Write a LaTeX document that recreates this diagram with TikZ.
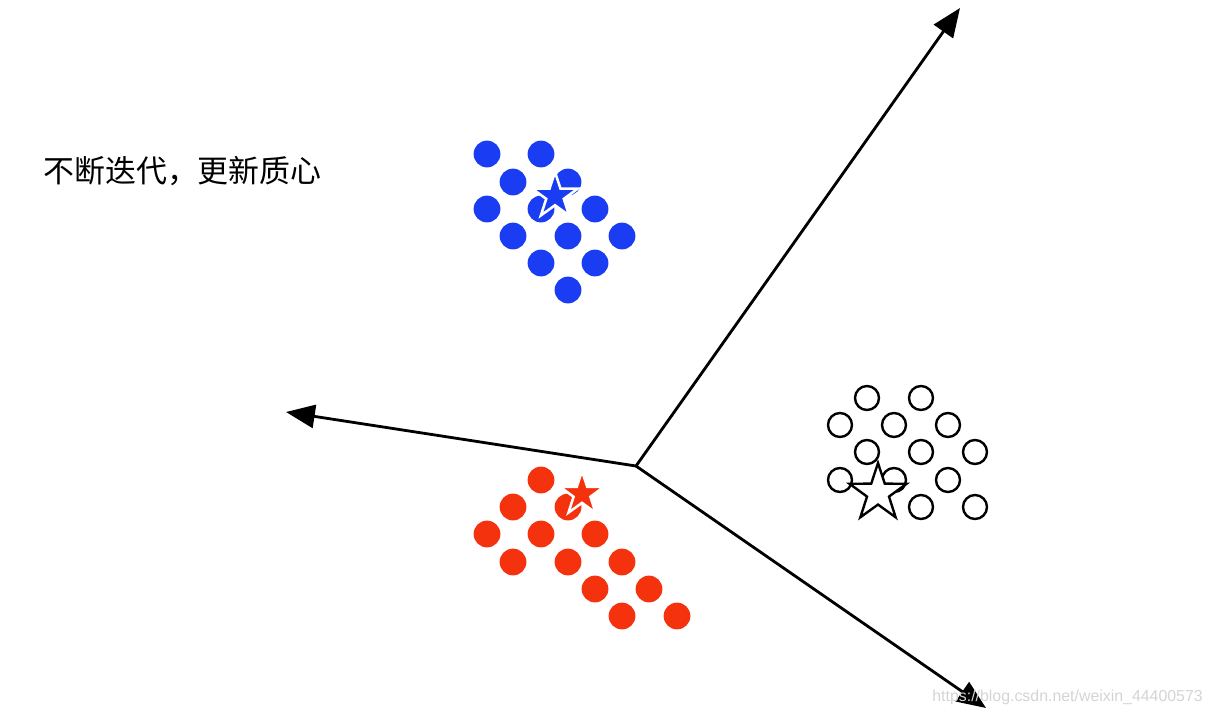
\documentclass[tikz,border=0pt]{standalone}
\usepackage{fontspec}
\usetikzlibrary{arrows.meta,shapes.geometric}
\newfontfamily\cjk{Noto Sans CJK SC}
\newfontfamily\wmfont{Liberation Sans}
\definecolor{clusterBlue}{HTML}{1A3CF2}
\definecolor{clusterRed}{HTML}{F5320E}
\definecolor{markGray}{HTML}{D4D4D4}

\begin{document}
\begin{tikzpicture}[x=0.025cm, y=-0.025cm,
    axis/.style={-{Triangle[length=7.2mm, width=5.8mm]}, line width=2pt},
    bluedot/.style={circle, fill=clusterBlue, inner sep=0pt, minimum size=0.67cm},
    reddot/.style={circle, fill=clusterRed, inner sep=0pt, minimum size=0.67cm},
    opendot/.style={circle, draw, line width=1.7pt, inner sep=0pt, minimum size=0.6cm},
    centroid/.style={star, star points=5, star point ratio=2.6, inner sep=0pt}]
  \useasboundingbox (0,0) rectangle (1212,713);

  % axes
  \coordinate (o) at (636,466);
  \coordinate (tipUp) at (960,8);
  \coordinate (tipLeft) at (286,412);
  \coordinate (tipDown) at (986,708);
  \foreach \t in {tipUp,tipLeft,tipDown}
    \draw[axis] (o) -- (\t);

  % blue cluster
  \foreach \x/\y [count=\i] in {487/154,541/154,513/182,568/182,487/209,541/209,595/209,
      513/236,568/236,622/236,541/263,595/263,568/290}
    \node[bluedot] (blue\i) at (\x,\y) {};
  \node[centroid, fill=clusterBlue, draw=white, line width=1.8pt, minimum size=1.2cm] (starBlue) at (555,196) {};

  % red cluster
  \foreach \x/\y [count=\i] in {541/480,513/507,568/507,487/534,541/534,595/534,
      513/562,568/562,622/562,595/589,649/589,622/616,677/616}
    \node[reddot] (red\i) at (\x,\y) {};
  \node[centroid, fill=clusterRed, draw=white, line width=1.8pt, minimum size=1.15cm] (starRed) at (582,494) {};

  % open cluster
  \foreach \x/\y [count=\i] in {867/398,921/398,840/425,894/425,948/425,
      867/452,921/452,975/452,840/480,894/480,948/480,921/507,975/507}
    \node[opendot] (open\i) at (\x,\y) {};
  \node[centroid, fill=white, draw, line width=1.7pt, minimum size=1.5cm] (starOpen) at (878,493) {};

  \node[anchor=west, inner sep=0pt, font=\cjk\fontsize{22}{26}\selectfont] (title) at (43,171) {不断迭代，更新质心};
  \node[anchor=east, inner sep=0pt, text=markGray, font=\wmfont\fontsize{11.3}{13}\selectfont] (mark) at (1203,697) {https://blog.csdn.net/weixin\_44400573};
\end{tikzpicture}
\end{document}
